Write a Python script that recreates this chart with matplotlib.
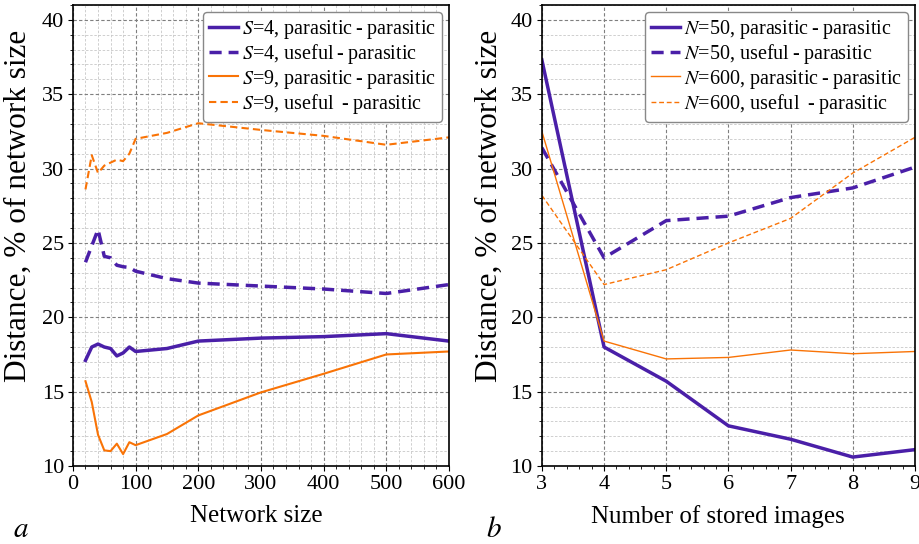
import matplotlib
matplotlib.use("Agg")
import matplotlib.pyplot as plt
from matplotlib.ticker import MultipleLocator

plt.rcParams["font.family"] = ["Liberation Serif", "DejaVu Serif"]
plt.rcParams["mathtext.fontset"] = "stix"

PURPLE = "#4a1fa8"
ORANGE = "#f97306"

# --- panel a: distance vs network size ---
net_size = [20, 30, 40, 50, 60, 70, 80, 90, 100, 150, 200, 300, 400, 500, 600]
s4_pp = [17.1, 18.0, 18.2, 18.0, 17.9, 17.4, 17.6, 18.0, 17.7, 17.9, 18.4, 18.6, 18.7, 18.9, 18.4]
s4_up = [23.7, 24.8, 25.9, 24.1, 24.0, 23.5, 23.4, 23.35, 23.1, 22.6, 22.3, 22.1, 21.9, 21.6, 22.2]
s9_pp = [15.7, 14.3, 12.1, 11.05, 11.0, 11.5, 10.8, 11.6, 11.4, 12.15, 13.4, 14.95, 16.2, 17.5, 17.7]
s9_up = [28.6, 30.9, 29.7, 30.2, 30.4, 30.6, 30.5, 31.0, 32.0, 32.4, 33.05, 32.6, 32.2, 31.6, 32.1]

# --- panel b: distance vs number of stored images ---
n_images = [3, 4, 5, 6, 7, 8, 9]
n50_pp = [37.3, 18.0, 15.7, 12.7, 11.8, 10.6, 11.1]
n50_up = [31.4, 24.0, 26.5, 26.8, 28.05, 28.7, 30.1]
n600_pp = [32.5, 18.4, 17.2, 17.3, 17.8, 17.55, 17.7]
n600_up = [28.2, 22.2, 23.2, 25.0, 26.65, 29.7, 32.1]

fig = plt.figure(figsize=(9.2, 5.44), dpi=100)
ax1 = fig.add_axes([0.0793, 0.1434, 0.4087, 0.8474])
ax2 = fig.add_axes([0.589, 0.1434, 0.4055, 0.8474])

DASH = (0, (3.5, 2))


def style_axis(ax, xlabel, label_x, ylabel_x):
    ax.set_ylim(10, 41)
    ax.yaxis.set_major_locator(MultipleLocator(5))
    ax.yaxis.set_minor_locator(MultipleLocator(1))
    ax.grid(which="major", color="#7f7f7f", linestyle=(0, (3, 2)), linewidth=0.8)
    ax.set_axisbelow(True)
    ax.tick_params(labelsize=16, pad=3)
    ax.set_ylabel("Distance, % of network size", fontsize=22.5)
    ax.yaxis.set_label_coords(ylabel_x, 0.565)
    ax.set_xlabel(xlabel, fontsize=18)
    ax.xaxis.set_label_coords(label_x, -0.084)
    ax.legend(loc="upper right", fontsize=14.5, handlelength=1.45, borderpad=0.3,
              labelspacing=0.06, handletextpad=0.2, borderaxespad=0.35,
              framealpha=1, edgecolor="#888888")
    for sp in ax.spines.values():
        sp.set_linewidth(1.2)


ax1.plot(net_size, s4_pp, color=PURPLE, lw=2.5, label="$S$=4, parasitic\u2009-\u2009parasitic")
ax1.plot(net_size, s4_up, color=PURPLE, lw=2.5, ls=DASH, label="$S$=4, useful\u2009-\u2009parasitic")
ax1.plot(net_size, s9_pp, color=ORANGE, lw=1.5, label="$S$=9, parasitic\u2009-\u2009parasitic")
ax1.plot(net_size, s9_up, color=ORANGE, lw=1.5, ls=DASH, label="$S$=9, useful \u2009-\u2009parasitic")
ax1.set_xlim(0, 600)
ax1.xaxis.set_major_locator(MultipleLocator(100))
ax1.xaxis.set_minor_locator(MultipleLocator(20))
style_axis(ax1, "Network size", 0.488, -0.106)
ax1.grid(which="minor", color="#c8c8c8", linestyle=(0, (3, 2)), linewidth=0.6)

ax2.plot(n_images, n50_pp, color=PURPLE, lw=2.5, label="$N$=50, parasitic\u2009-\u2009parasitic")
ax2.plot(n_images, n50_up, color=PURPLE, lw=2.5, ls=DASH, label="$N$=50, useful\u2009-\u2009parasitic")
ax2.plot(n_images, n600_pp, color=ORANGE, lw=1.0, label="$N$=600, parasitic\u2009-\u2009parasitic")
ax2.plot(n_images, n600_up, color=ORANGE, lw=1.0, ls=DASH, label="$N$=600, useful \u2009-\u2009parasitic")
ax2.set_xlim(3, 9)
ax2.xaxis.set_major_locator(MultipleLocator(1))
ax2.xaxis.set_minor_locator(MultipleLocator(0.2))
style_axis(ax2, "Number of stored images", 0.472, -0.102)
ax2.grid(which="minor", axis="y", color="#c8c8c8", linestyle=(0, (3, 2)), linewidth=0.6)

fig.text(0.014, 0.012, "$a$", fontsize=21)
fig.text(0.528, 0.012, "$b$", fontsize=21)

fig.savefig("out.png", dpi=100)
